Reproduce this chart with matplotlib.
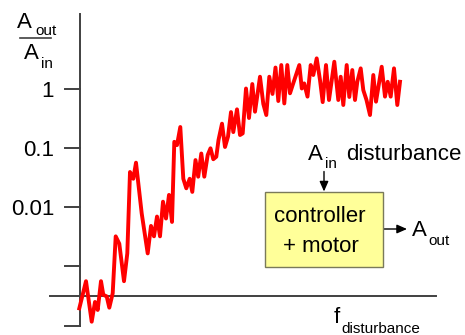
import numpy as np
import matplotlib
matplotlib.use("Agg")
import matplotlib.pyplot as plt
from matplotlib.patches import Rectangle

# frequency (arbitrary units) and gain A_out/A_in
freq = [-0.7, 6, 11.7, 15, 17.7, 21, 23.3, 26.7, 29.3, 32.7, 35.7, 39.3, 44, 47.3,
        50, 53.3, 56, 61.7, 67.7, 71, 74, 77, 80, 83, 86, 89, 92, 94.3, 97, 100.3,
        103.3, 106.3, 109.7, 112.3, 115.5, 118.2, 121.3, 124.3, 127.7, 130.5, 133.3,
        136.3, 138.5, 142, 145, 148, 151, 153.3, 157, 160, 162.7, 166, 169, 172.3,
        175, 180, 183.3, 186.3, 189.3, 192.5, 195.5, 198.3, 201.3, 204.3, 207.3, 210,
        213, 216, 219.3, 221.8, 224.2, 227.5, 230.7, 233.3, 236.7, 240, 242.7, 246,
        249, 254.3, 258.3, 260.7, 263.3, 266.7, 269.3, 272.3, 275, 277.3, 280.7,
        283.3, 286.5, 290, 293.3, 296, 301.7, 305, 307.7, 310.7, 314, 317.3, 320]
gain = [1.95e-4, 5.6e-4, 1.16e-4, 2.5e-4, 1.83e-4, 5.6e-4, 3.3e-4, 3.1e-4, 2.0e-4,
        3.5e-4, 3.2e-3, 2.4e-3, 5.6e-4, 1.65e-3, 0.039, 0.030, 0.056, 7.8e-3,
        1.65e-3, 4.8e-3, 3.2e-3, 6.9e-3, 3.2e-3, 0.0123, 6.4e-3, 0.016, 5.6e-3,
        0.126, 0.111, 0.224, 0.030, 0.0207, 0.030, 0.018, 0.062, 0.0325, 0.080,
        0.0325, 0.0755, 0.098, 0.064, 0.0706, 0.135, 0.255, 0.103, 0.154, 0.40,
        0.184, 0.445, 0.164, 0.175, 1.0, 0.318, 1.19, 0.406, 1.58, 0.55, 0.357,
        1.58, 0.81, 2.26, 0.615, 2.49, 0.56, 2.49, 0.83, 1.19, 1.69, 2.49, 1.0,
        1.22, 0.73, 2.49, 1.69, 3.23, 1.39, 0.59, 2.49, 0.64, 2.83, 0.64, 1.58,
        0.527, 2.49, 0.72, 2.05, 0.64, 1.30, 2.19, 0.94, 0.64, 0.357, 1.69, 0.60,
        2.33, 0.73, 1.30, 0.73, 2.19, 0.527, 1.30]
tick_vals = [1, 0.1, 0.01, 0.001, 0.0001]
tick_labels = ["1", "0.1", "0.01", "", ""]

W, H = 465, 335
plt.rcParams['font.family'] = ['Liberation Sans', 'DejaVu Sans']

fig = plt.figure(figsize=(W / 100, H / 100), dpi=100)
ax = fig.add_axes([0, 0, 1, 1])
ax.set_yscale('log')
ax.set_xlim(-80, 385)
ax.set_ylim(10 ** -4.160, 10 ** 1.494)
ax.axis('off')


def P(x, y):
    # pixel position (top-left origin) -> figure fraction
    return (x / W, 1 - y / H)


axis_c = '#404040'
ax.plot([0, 0], [1e-4, 10 ** 1.257], color=axis_c, lw=1.4)
for v, lab in zip(tick_vals, tick_labels):
    ax.plot([-15, 0], [v, v], color=axis_c, lw=1.4)
    if lab:
        ax.annotate(lab, xy=(-26, v), xytext=(0, -8), textcoords='offset pixels',
                    ha='right', va='baseline', fontsize=16)
ax.plot([-30, 356], [10 ** -3.5] * 2, color=axis_c, lw=1.4)

ax.plot(freq, gain, color='#ff0000', lw=2.8, solid_joinstyle='round')

tf = fig.transFigure


def txt(x, y, s, size=16, **kw):
    fig.text(*P(x, y), s, fontsize=size, ha='left', va='baseline', transform=tf, **kw)


# y label A_out / A_in
txt(17, 28, "A")
txt(35, 35, "out", 11)
fig.add_artist(plt.Line2D([20 / W, 50.7 / W], [1 - 38.3 / H] * 2, color=axis_c, lw=1.2))
txt(24, 59, "A")
txt(41, 68, "in", 11)

# x label
txt(334, 322.7, "f")
txt(341, 332.7, "disturbance", 11)

# block diagram
txt(308, 160, "A")
txt(325, 168, "in", 11)
txt(346, 160, "disturbance")
box = Rectangle(P(265, 266.7), 118.3 / W, 75 / H, transform=tf,
                facecolor='#ffff99', edgecolor='#7a7a5a', lw=1.0)
fig.add_artist(box)
fig.text(*P(320, 221.7), "controller", fontsize=16, ha='center', va='baseline', transform=tf)
fig.text(*P(320.5, 251.7), "+ motor", fontsize=16, ha='center', va='baseline', transform=tf)
arrow = dict(arrowstyle='-|>,head_length=0.5,head_width=0.22', color='black',
             lw=1.0, shrinkA=0, shrinkB=0, mutation_scale=12)
ax.annotate('', xy=P(324, 191.5), xytext=P(324, 171.5), xycoords=tf, textcoords=tf,
            arrowprops=arrow)
ax.annotate('', xy=P(407, 229), xytext=P(383.3, 229), xycoords=tf, textcoords=tf,
            arrowprops=arrow)
txt(412, 236, "A")
txt(428, 245, "out", 11)

fig.savefig('out.png', dpi=100)
